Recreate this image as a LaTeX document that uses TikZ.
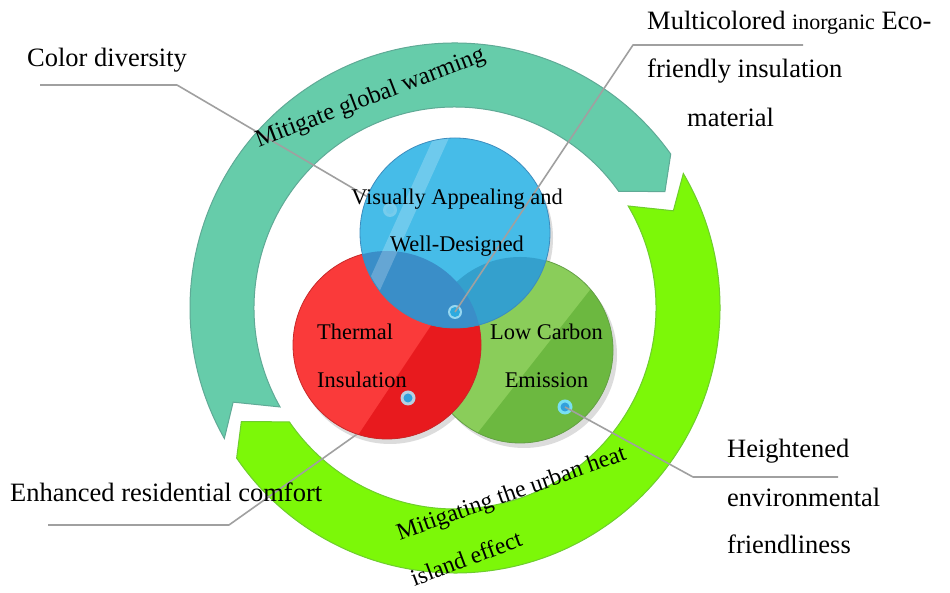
\documentclass[tikz,border=0pt]{standalone}
\usepackage{fontspec}
\setmainfont{Liberation Serif}
\usetikzlibrary{calc}
\definecolor{tealband}{RGB}{102,204,170}
\definecolor{tealedge}{RGB}{95,170,150}
\definecolor{greenband}{RGB}{124,248,8}
\definecolor{greenedge}{RGB}{110,205,45}
\definecolor{redlight}{RGB}{250,58,58}
\definecolor{reddark}{RGB}{232,26,30}
\definecolor{rededge}{RGB}{200,40,40}
\definecolor{grnlight}{RGB}{138,205,90}
\definecolor{grndark}{RGB}{108,184,64}
\definecolor{grnedge}{RGB}{100,160,70}
\definecolor{bluelight}{RGB}{70,188,232}
\definecolor{blueover}{RGB}{58,142,200}
\definecolor{blueovergrn}{RGB}{52,160,205}
\definecolor{blueedge}{RGB}{60,140,190}
\definecolor{leader}{RGB}{160,160,160}
\definecolor{ringc}{RGB}{150,215,240}
\definecolor{dotc}{RGB}{50,160,220}
\begin{document}
\begin{tikzpicture}[x=1pt,y=1pt,
  lbl/.style={font=\fontsize{26.5}{30}\selectfont, inner sep=0pt},
  clbl/.style={font=\fontsize{22.4}{26}\selectfont, inner sep=0pt},
  albl/.style={font=\fontsize{24.5}{28}\selectfont, inner sep=0pt},
  leadline/.style={draw=leader, line width=1.6pt, line join=round},
  shadowc/.style={fill=black!30, opacity=0.45},
]
\useasboundingbox (0,0) rectangle (950,593);
\fill[white] (0,0) rectangle (950,593);
\coordinate (C) at (455,285);

% teal chevron band
\filldraw[fill=tealband, draw=tealedge, line width=1pt]
 ($(C)+(35.5:265)$) arc[start angle=35.5, end angle=209.5, radius=265]
 -- ($(C)+(203:241)$) -- ($(C)+(209.5:201)$)
 arc[start angle=209.5, end angle=35.5, radius=201]
 -- ($(C)+(29:240)$) -- cycle;
% green chevron band
\filldraw[fill=greenband, draw=greenedge, line width=1pt]
 ($(C)+(214.5:265)$) arc[start angle=214.5, end angle=390.5, radius=265]
 -- ($(C)+(384:239)$) -- ($(C)+(390.5:201)$)
 arc[start angle=390.5, end angle=214.5, radius=201]
 -- ($(C)+(208:242)$) -- cycle;

% coordinates
\coordinate (GC) at (520,243);
\coordinate (RC) at (387,248);
\coordinate (BC) at (455,360);
\coordinate (dotB1) at (390,383);
\coordinate (dotB2) at (455,281);
\coordinate (dotR) at (408,195);
\coordinate (dotG) at (565,186);
\coordinate (cdA) at (40,508);  \coordinate (cdB) at (177,508);
\coordinate (mcA) at (803,548); \coordinate (mcB) at (633,548);
\coordinate (erA) at (48,68);   \coordinate (erB) at (229,68);
\coordinate (heA) at (838,116); \coordinate (heB) at (693,116);

% leaders under circles
\draw[leadline] (cdA) -- (cdB) -- (dotB1);
\draw[leadline] (erA) -- (erB) -- (dotR);

% shadows
\fill[shadowc] ($(GC)+(4,-5)$) circle (93);
\fill[shadowc] ($(RC)+(3,-5)$) circle (94);
\fill[shadowc] ($(BC)+(3,-5)$) circle (95);

% green circle
\fill[grnlight] (GC) circle (93);
\begin{scope}
  \clip (GC) circle (93);
  \fill[grndark] (678,415) -- (392,51) -- (700,51) -- (700,415) -- cycle;
\end{scope}
\draw[grnedge, line width=0.8pt] (GC) circle (93);

% red circle
\fill[redlight] (RC) circle (94);
\begin{scope}
  \clip (RC) circle (94);
  \fill[reddark] (518,398) -- (269,24) -- (560,24) -- (560,398) -- cycle;
\end{scope}
\draw[rededge, line width=0.8pt] (RC) circle (94);

% blue circle
\fill[bluelight] (BC) circle (95);
\begin{scope}
  \clip (BC) circle (95);
  \fill[blueovergrn] (GC) circle (93);
  \fill[blueover] (RC) circle (94);
  \draw[white, opacity=0.22, line width=14pt] (448,470) -- (362,280);
\end{scope}
\draw[blueedge, line width=0.8pt] (BC) circle (95);

% dots
\fill[ringc, opacity=0.6] (dotB1) circle (7);
\fill[bluelight!80!white] (dotB1) circle (4);
\fill[ringc] (dotB2) circle (7);
\fill[dotc!90!cyan] (dotB2) circle (5);
\fill[ringc!70!pink] (dotR) circle (7.5);
\fill[dotc] (dotR) circle (4.5);
\fill[ringc!80!cyan] (dotG) circle (7.5);
\fill[dotc] (dotG) circle (4.5);

% leaders over circles
\draw[leadline] (mcA) -- (mcB) -- (dotB2);
\draw[leadline] (heA) -- (heB) -- (dotG);

% outer labels
\node[lbl, anchor=base west] (cd) at (27,526) {Color diversity};
\node[lbl, anchor=base west] (mc1) at (647,563) {Multicolored {\fontsize{22}{26}\selectfont inorganic} Eco-};
\node[lbl, anchor=base west] (mc2) at (647,515) {friendly insulation};
\node[lbl, anchor=base west] (mc3) at (687,466) {material};
\node[lbl, anchor=base west] (er) at (10,91) {Enhanced residential comfort};
\node[lbl, anchor=base west] (he1) at (727,135) {Heightened};
\node[lbl, anchor=base west] (he2) at (727,86) {environmental};
\node[lbl, anchor=base west] (he3) at (727,39) {friendliness};

% circle labels
\node[clbl, anchor=base] (va1) at (457,388) {Visually Appealing and};
\node[clbl, anchor=base] (va2) at (457,341) {Well-Designed};
\node[clbl, anchor=base west] (ti1) at (317,253) {Thermal};
\node[clbl, anchor=base west] (ti2) at (317,205) {Insulation};
\node[clbl, anchor=base] (lc1) at (546.5,253) {Low Carbon};
\node[clbl, anchor=base] (lc2) at (546.5,205) {Emission};

% band labels
\node[albl, anchor=base, rotate=21] (gw) at (372.5,489) {Mitigate global warming};
\node[albl, anchor=base, rotate=19.5, font=\fontsize{23.8}{28}\selectfont] (uh1) at (513.5,93) {Mitigating the urban heat};
\node[albl, anchor=base, rotate=20.5, font=\fontsize{23.8}{28}\selectfont] (uh2) at (469,27) {island effect};
\end{tikzpicture}
\end{document}
